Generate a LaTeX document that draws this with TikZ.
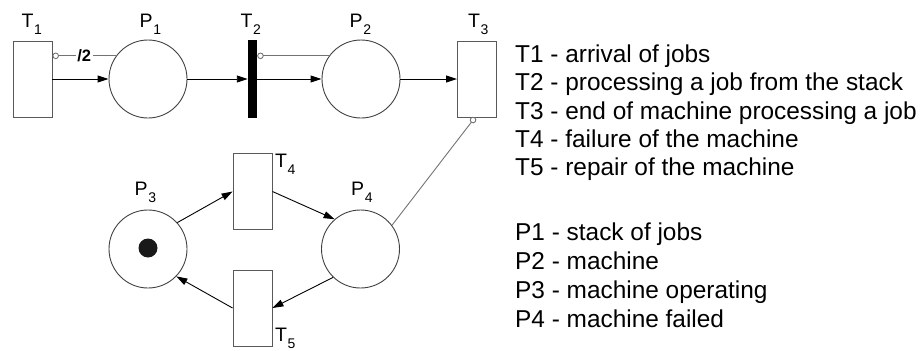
\documentclass[tikz,border=0pt]{standalone}
\usepackage{fontspec}
\setmainfont{Liberation Sans}
\usetikzlibrary{arrows.meta}

% label of a place or transition: letter with a lowered index
\newcommand\pnlabel[2]{{\fontsize{19.5}{20}\selectfont #1}\kern0.6pt\raisebox{-7.5pt}{\fontsize{14}{14}\selectfont #2}}

\begin{document}
\begin{tikzpicture}[x=1pt,y=-1pt,
  place/.style={circle,draw=black!75,line width=0.9pt,minimum size=78pt,inner sep=0pt},
  trans/.style={rectangle,draw=black!65,line width=0.9pt,minimum width=39pt,minimum height=76pt,inner sep=0pt},
  bar/.style={rectangle,fill=black,minimum width=9pt,minimum height=78pt,inner sep=0pt},
  token/.style={circle,fill=black!90,minimum size=19pt,inner sep=0pt},
  arc/.style={-{Triangle[length=11pt,width=7pt]},line width=0.9pt},
  inhib/.style={-{Circle[open,length=6.5pt,width=6.5pt]},draw=black!55,line width=0.9pt},
  lbl/.style={anchor=base west,inner sep=0pt},
  legend/.style={anchor=base west,inner sep=0pt,font=\fontsize{24.4}{28}\selectfont}
]
\useasboundingbox (0,0) rectangle (922,351);

% places and transitions
\node[trans] (T1) at (32.5,79) {};
\node[place] (P1) at (148,79) {};
\node[bar]   (T2) at (252.5,79) {};
\node[place] (P2) at (361,79) {};
\node[trans] (T3) at (477,79) {};
\node[place] (P3) at (148,249) {};
\node[place] (P4) at (360.5,249) {};
\node[trans] (T4) at (252.5,191.5) {};
\node[trans] (T5) at (252.5,308) {};
\node[token] (tok) at (148,248) {};

% names
\node[lbl] (lT1) at (21.5,27.3) {\pnlabel{T}{1}};
\node[lbl] (lP1) at (139.5,27.3) {\pnlabel{P}{1}};
\node[lbl] (lT2) at (240.5,27.3) {\pnlabel{T}{2}};
\node[lbl] (lP2) at (349.5,27.3) {\pnlabel{P}{2}};
\node[lbl] (lT3) at (468,27.3) {\pnlabel{T}{3}};
\node[lbl] (lP3) at (134.5,195) {\pnlabel{P}{3}};
\node[lbl] (lP4) at (351,195) {\pnlabel{P}{4}};
\node[lbl] (lT4) at (275,167) {\pnlabel{T}{4}};
\node[lbl] (lT5) at (275,341) {\pnlabel{T}{5}};

% ordinary arcs
\draw[arc] (T1.east) -- (P1.west);
\draw[arc] (P1.east) -- (T2.west);
\draw[arc] (T2.east) -- (P2.west);
\draw[arc] (P2.east) -- (T3.west);
\draw[arc] (P3.42) -- (T4.west);
\draw[arc] (T4.east) -- (P4.131);
\draw[arc] (P4.226) -- (T5.east);
\draw[arc] (T5.west) -- (P3.316);

% inhibitor arcs
\draw[inhib] (P1.144) -- (T1.east |- P1.144)
  node[pos=0.5,fill=white,inner sep=1.5pt,text=black,font=\fontsize{16.5}{18}\selectfont\bfseries] (w2) {/2};
\draw[inhib] (P2.144) -- (T2.east |- P2.144);
\draw[inhib] (P4.37) -- ([xshift=-2pt]T3.south);

% legend
\node[legend] (d1) at (515,62.5)  {T1 - arrival of jobs};
\node[legend] (d2) at (515,90.8)  {T2 - processing a job from the stack};
\node[legend] (d3) at (515,119)   {T3 - end of machine processing a job};
\node[legend] (d4) at (515,147.3) {T4 - failure of the machine};
\node[legend] (d5) at (515,175.5) {T5 - repair of the machine};
\node[legend] (d6) at (515,240.5) {P1 - stack of jobs};
\node[legend] (d7) at (515,269.5) {P2 - machine};
\node[legend] (d8) at (515,298.5) {P3 - machine operating};
\node[legend] (d9) at (515,327.5) {P4 - machine failed};
\end{tikzpicture}
\end{document}
